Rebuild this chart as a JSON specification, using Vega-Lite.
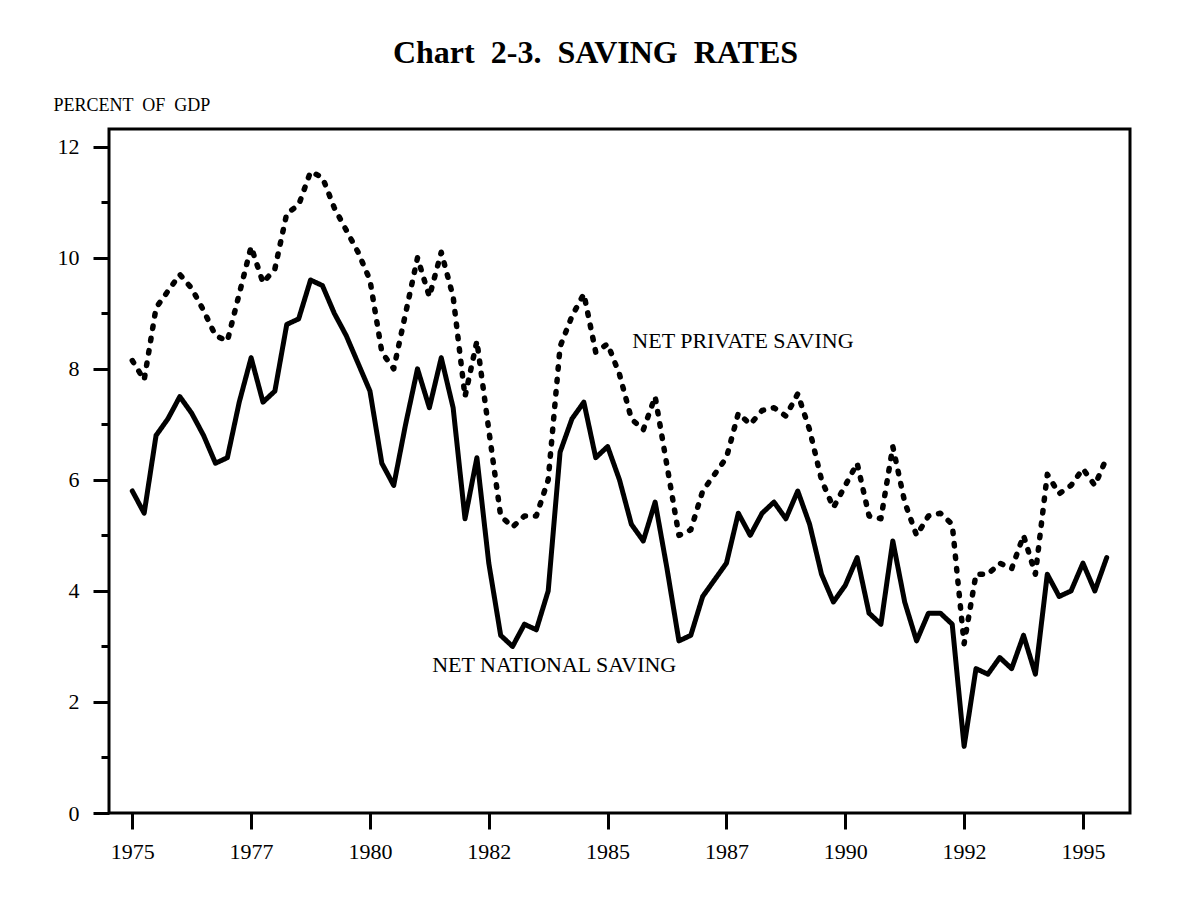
{
  "$schema": "https://vega.github.io/schema/vega-lite/v6.json",
  "autosize": "none",
  "width": 1021,
  "height": 684,
  "padding": {"left": 109, "top": 129, "right": 50, "bottom": 85},
  "background": "white",
  "config": {
    "view": {"stroke": "black", "strokeWidth": 3},
    "font": "Liberation Serif",
    "axis": {"labelColor": "black", "tickColor": "black", "titleColor": "black"}
  },
  "title": {
    "text": "Chart \u00a02-3. \u00a0SAVING \u00a0RATES",
    "font": "Liberation Serif",
    "fontSize": 32,
    "fontWeight": "bold",
    "color": "black",
    "anchor": "middle",
    "frame": "group",
    "dx": -24,
    "offset": 26
  },
  "datasets": {
    "saving": [
      {"year": 1975.00, "series": "NET NATIONAL SAVING", "value": 5.8},
      {"year": 1975.25, "series": "NET NATIONAL SAVING", "value": 5.4},
      {"year": 1975.50, "series": "NET NATIONAL SAVING", "value": 6.8},
      {"year": 1975.75, "series": "NET NATIONAL SAVING", "value": 7.1},
      {"year": 1976.00, "series": "NET NATIONAL SAVING", "value": 7.5},
      {"year": 1976.25, "series": "NET NATIONAL SAVING", "value": 7.2},
      {"year": 1976.50, "series": "NET NATIONAL SAVING", "value": 6.8},
      {"year": 1976.75, "series": "NET NATIONAL SAVING", "value": 6.3},
      {"year": 1977.00, "series": "NET NATIONAL SAVING", "value": 6.4},
      {"year": 1977.25, "series": "NET NATIONAL SAVING", "value": 7.4},
      {"year": 1977.50, "series": "NET NATIONAL SAVING", "value": 8.2},
      {"year": 1977.75, "series": "NET NATIONAL SAVING", "value": 7.4},
      {"year": 1978.00, "series": "NET NATIONAL SAVING", "value": 7.6},
      {"year": 1978.25, "series": "NET NATIONAL SAVING", "value": 8.8},
      {"year": 1978.50, "series": "NET NATIONAL SAVING", "value": 8.9},
      {"year": 1978.75, "series": "NET NATIONAL SAVING", "value": 9.6},
      {"year": 1979.00, "series": "NET NATIONAL SAVING", "value": 9.5},
      {"year": 1979.25, "series": "NET NATIONAL SAVING", "value": 9.0},
      {"year": 1979.50, "series": "NET NATIONAL SAVING", "value": 8.6},
      {"year": 1979.75, "series": "NET NATIONAL SAVING", "value": 8.1},
      {"year": 1980.00, "series": "NET NATIONAL SAVING", "value": 7.6},
      {"year": 1980.25, "series": "NET NATIONAL SAVING", "value": 6.3},
      {"year": 1980.50, "series": "NET NATIONAL SAVING", "value": 5.9},
      {"year": 1980.75, "series": "NET NATIONAL SAVING", "value": 7.0},
      {"year": 1981.00, "series": "NET NATIONAL SAVING", "value": 8.0},
      {"year": 1981.25, "series": "NET NATIONAL SAVING", "value": 7.3},
      {"year": 1981.50, "series": "NET NATIONAL SAVING", "value": 8.2},
      {"year": 1981.75, "series": "NET NATIONAL SAVING", "value": 7.3},
      {"year": 1982.00, "series": "NET NATIONAL SAVING", "value": 5.3},
      {"year": 1982.25, "series": "NET NATIONAL SAVING", "value": 6.4},
      {"year": 1982.50, "series": "NET NATIONAL SAVING", "value": 4.5},
      {"year": 1982.75, "series": "NET NATIONAL SAVING", "value": 3.2},
      {"year": 1983.00, "series": "NET NATIONAL SAVING", "value": 3.0},
      {"year": 1983.25, "series": "NET NATIONAL SAVING", "value": 3.4},
      {"year": 1983.50, "series": "NET NATIONAL SAVING", "value": 3.3},
      {"year": 1983.75, "series": "NET NATIONAL SAVING", "value": 4.0},
      {"year": 1984.00, "series": "NET NATIONAL SAVING", "value": 6.5},
      {"year": 1984.25, "series": "NET NATIONAL SAVING", "value": 7.1},
      {"year": 1984.50, "series": "NET NATIONAL SAVING", "value": 7.4},
      {"year": 1984.75, "series": "NET NATIONAL SAVING", "value": 6.4},
      {"year": 1985.00, "series": "NET NATIONAL SAVING", "value": 6.6},
      {"year": 1985.25, "series": "NET NATIONAL SAVING", "value": 6.0},
      {"year": 1985.50, "series": "NET NATIONAL SAVING", "value": 5.2},
      {"year": 1985.75, "series": "NET NATIONAL SAVING", "value": 4.9},
      {"year": 1986.00, "series": "NET NATIONAL SAVING", "value": 5.6},
      {"year": 1986.25, "series": "NET NATIONAL SAVING", "value": 4.4},
      {"year": 1986.50, "series": "NET NATIONAL SAVING", "value": 3.1},
      {"year": 1986.75, "series": "NET NATIONAL SAVING", "value": 3.2},
      {"year": 1987.00, "series": "NET NATIONAL SAVING", "value": 3.9},
      {"year": 1987.25, "series": "NET NATIONAL SAVING", "value": 4.2},
      {"year": 1987.50, "series": "NET NATIONAL SAVING", "value": 4.5},
      {"year": 1987.75, "series": "NET NATIONAL SAVING", "value": 5.4},
      {"year": 1988.00, "series": "NET NATIONAL SAVING", "value": 5.0},
      {"year": 1988.25, "series": "NET NATIONAL SAVING", "value": 5.4},
      {"year": 1988.50, "series": "NET NATIONAL SAVING", "value": 5.6},
      {"year": 1988.75, "series": "NET NATIONAL SAVING", "value": 5.3},
      {"year": 1989.00, "series": "NET NATIONAL SAVING", "value": 5.8},
      {"year": 1989.25, "series": "NET NATIONAL SAVING", "value": 5.2},
      {"year": 1989.50, "series": "NET NATIONAL SAVING", "value": 4.3},
      {"year": 1989.75, "series": "NET NATIONAL SAVING", "value": 3.8},
      {"year": 1990.00, "series": "NET NATIONAL SAVING", "value": 4.1},
      {"year": 1990.25, "series": "NET NATIONAL SAVING", "value": 4.6},
      {"year": 1990.50, "series": "NET NATIONAL SAVING", "value": 3.6},
      {"year": 1990.75, "series": "NET NATIONAL SAVING", "value": 3.4},
      {"year": 1991.00, "series": "NET NATIONAL SAVING", "value": 4.9},
      {"year": 1991.25, "series": "NET NATIONAL SAVING", "value": 3.8},
      {"year": 1991.50, "series": "NET NATIONAL SAVING", "value": 3.1},
      {"year": 1991.75, "series": "NET NATIONAL SAVING", "value": 3.6},
      {"year": 1992.00, "series": "NET NATIONAL SAVING", "value": 3.6},
      {"year": 1992.25, "series": "NET NATIONAL SAVING", "value": 3.4},
      {"year": 1992.50, "series": "NET NATIONAL SAVING", "value": 1.2},
      {"year": 1992.75, "series": "NET NATIONAL SAVING", "value": 2.6},
      {"year": 1993.00, "series": "NET NATIONAL SAVING", "value": 2.5},
      {"year": 1993.25, "series": "NET NATIONAL SAVING", "value": 2.8},
      {"year": 1993.50, "series": "NET NATIONAL SAVING", "value": 2.6},
      {"year": 1993.75, "series": "NET NATIONAL SAVING", "value": 3.2},
      {"year": 1994.00, "series": "NET NATIONAL SAVING", "value": 2.5},
      {"year": 1994.25, "series": "NET NATIONAL SAVING", "value": 4.3},
      {"year": 1994.50, "series": "NET NATIONAL SAVING", "value": 3.9},
      {"year": 1994.75, "series": "NET NATIONAL SAVING", "value": 4.0},
      {"year": 1995.00, "series": "NET NATIONAL SAVING", "value": 4.5},
      {"year": 1995.25, "series": "NET NATIONAL SAVING", "value": 4.0},
      {"year": 1995.50, "series": "NET NATIONAL SAVING", "value": 4.6},
      {"year": 1975.00, "series": "NET PRIVATE SAVING", "value": 8.15},
      {"year": 1975.25, "series": "NET PRIVATE SAVING", "value": 7.8},
      {"year": 1975.50, "series": "NET PRIVATE SAVING", "value": 9.1},
      {"year": 1975.75, "series": "NET PRIVATE SAVING", "value": 9.4},
      {"year": 1976.00, "series": "NET PRIVATE SAVING", "value": 9.7},
      {"year": 1976.25, "series": "NET PRIVATE SAVING", "value": 9.45},
      {"year": 1976.50, "series": "NET PRIVATE SAVING", "value": 9.05},
      {"year": 1976.75, "series": "NET PRIVATE SAVING", "value": 8.6},
      {"year": 1977.00, "series": "NET PRIVATE SAVING", "value": 8.5},
      {"year": 1977.25, "series": "NET PRIVATE SAVING", "value": 9.35},
      {"year": 1977.50, "series": "NET PRIVATE SAVING", "value": 10.2},
      {"year": 1977.75, "series": "NET PRIVATE SAVING", "value": 9.55},
      {"year": 1978.00, "series": "NET PRIVATE SAVING", "value": 9.8},
      {"year": 1978.25, "series": "NET PRIVATE SAVING", "value": 10.8},
      {"year": 1978.50, "series": "NET PRIVATE SAVING", "value": 10.95},
      {"year": 1978.75, "series": "NET PRIVATE SAVING", "value": 11.55},
      {"year": 1979.00, "series": "NET PRIVATE SAVING", "value": 11.45},
      {"year": 1979.25, "series": "NET PRIVATE SAVING", "value": 10.9},
      {"year": 1979.50, "series": "NET PRIVATE SAVING", "value": 10.5},
      {"year": 1979.75, "series": "NET PRIVATE SAVING", "value": 10.1},
      {"year": 1980.00, "series": "NET PRIVATE SAVING", "value": 9.6},
      {"year": 1980.25, "series": "NET PRIVATE SAVING", "value": 8.3},
      {"year": 1980.50, "series": "NET PRIVATE SAVING", "value": 8.0},
      {"year": 1980.75, "series": "NET PRIVATE SAVING", "value": 9.0},
      {"year": 1981.00, "series": "NET PRIVATE SAVING", "value": 10.0},
      {"year": 1981.25, "series": "NET PRIVATE SAVING", "value": 9.3},
      {"year": 1981.50, "series": "NET PRIVATE SAVING", "value": 10.1},
      {"year": 1981.75, "series": "NET PRIVATE SAVING", "value": 9.3},
      {"year": 1982.00, "series": "NET PRIVATE SAVING", "value": 7.5},
      {"year": 1982.25, "series": "NET PRIVATE SAVING", "value": 8.5},
      {"year": 1982.50, "series": "NET PRIVATE SAVING", "value": 6.9},
      {"year": 1982.75, "series": "NET PRIVATE SAVING", "value": 5.35},
      {"year": 1983.00, "series": "NET PRIVATE SAVING", "value": 5.15},
      {"year": 1983.25, "series": "NET PRIVATE SAVING", "value": 5.35},
      {"year": 1983.50, "series": "NET PRIVATE SAVING", "value": 5.35},
      {"year": 1983.75, "series": "NET PRIVATE SAVING", "value": 6.0},
      {"year": 1984.00, "series": "NET PRIVATE SAVING", "value": 8.4},
      {"year": 1984.25, "series": "NET PRIVATE SAVING", "value": 8.95},
      {"year": 1984.50, "series": "NET PRIVATE SAVING", "value": 9.35},
      {"year": 1984.75, "series": "NET PRIVATE SAVING", "value": 8.3},
      {"year": 1985.00, "series": "NET PRIVATE SAVING", "value": 8.45},
      {"year": 1985.25, "series": "NET PRIVATE SAVING", "value": 7.9},
      {"year": 1985.50, "series": "NET PRIVATE SAVING", "value": 7.1},
      {"year": 1985.75, "series": "NET PRIVATE SAVING", "value": 6.9},
      {"year": 1986.00, "series": "NET PRIVATE SAVING", "value": 7.5},
      {"year": 1986.25, "series": "NET PRIVATE SAVING", "value": 6.25},
      {"year": 1986.50, "series": "NET PRIVATE SAVING", "value": 5.0},
      {"year": 1986.75, "series": "NET PRIVATE SAVING", "value": 5.1},
      {"year": 1987.00, "series": "NET PRIVATE SAVING", "value": 5.8},
      {"year": 1987.25, "series": "NET PRIVATE SAVING", "value": 6.1},
      {"year": 1987.50, "series": "NET PRIVATE SAVING", "value": 6.4},
      {"year": 1987.75, "series": "NET PRIVATE SAVING", "value": 7.2},
      {"year": 1988.00, "series": "NET PRIVATE SAVING", "value": 7.0},
      {"year": 1988.25, "series": "NET PRIVATE SAVING", "value": 7.25},
      {"year": 1988.50, "series": "NET PRIVATE SAVING", "value": 7.3},
      {"year": 1988.75, "series": "NET PRIVATE SAVING", "value": 7.15},
      {"year": 1989.00, "series": "NET PRIVATE SAVING", "value": 7.55},
      {"year": 1989.25, "series": "NET PRIVATE SAVING", "value": 6.9},
      {"year": 1989.50, "series": "NET PRIVATE SAVING", "value": 6.0},
      {"year": 1989.75, "series": "NET PRIVATE SAVING", "value": 5.5},
      {"year": 1990.00, "series": "NET PRIVATE SAVING", "value": 5.9},
      {"year": 1990.25, "series": "NET PRIVATE SAVING", "value": 6.3},
      {"year": 1990.50, "series": "NET PRIVATE SAVING", "value": 5.35},
      {"year": 1990.75, "series": "NET PRIVATE SAVING", "value": 5.3},
      {"year": 1991.00, "series": "NET PRIVATE SAVING", "value": 6.6},
      {"year": 1991.25, "series": "NET PRIVATE SAVING", "value": 5.6},
      {"year": 1991.50, "series": "NET PRIVATE SAVING", "value": 5.0},
      {"year": 1991.75, "series": "NET PRIVATE SAVING", "value": 5.35},
      {"year": 1992.00, "series": "NET PRIVATE SAVING", "value": 5.4},
      {"year": 1992.25, "series": "NET PRIVATE SAVING", "value": 5.2},
      {"year": 1992.50, "series": "NET PRIVATE SAVING", "value": 3.05},
      {"year": 1992.75, "series": "NET PRIVATE SAVING", "value": 4.3},
      {"year": 1993.00, "series": "NET PRIVATE SAVING", "value": 4.3},
      {"year": 1993.25, "series": "NET PRIVATE SAVING", "value": 4.5},
      {"year": 1993.50, "series": "NET PRIVATE SAVING", "value": 4.4},
      {"year": 1993.75, "series": "NET PRIVATE SAVING", "value": 5.0},
      {"year": 1994.00, "series": "NET PRIVATE SAVING", "value": 4.3},
      {"year": 1994.25, "series": "NET PRIVATE SAVING", "value": 6.1},
      {"year": 1994.50, "series": "NET PRIVATE SAVING", "value": 5.75},
      {"year": 1994.75, "series": "NET PRIVATE SAVING", "value": 5.9},
      {"year": 1995.00, "series": "NET PRIVATE SAVING", "value": 6.2},
      {"year": 1995.25, "series": "NET PRIVATE SAVING", "value": 5.9},
      {"year": 1995.50, "series": "NET PRIVATE SAVING", "value": 6.4}
    ],
    "labels": [
      {"year": 1985.52, "value": 8.5, "label": "NET PRIVATE SAVING"},
      {"year": 1981.31, "value": 2.67, "label": "NET NATIONAL SAVING"}
    ]
  },
  "layer": [
    {
      "data": {"name": "saving"},
      "mark": {"type": "line", "color": "black", "strokeCap": "round", "strokeJoin": "round"},
      "encoding": {
        "x": {
          "field": "year",
          "type": "quantitative",
          "scale": {"domain": [1974.51, 1995.99], "nice": false, "zero": false},
          "axis": {
            "values": [1975, 1977.5, 1980, 1982.5, 1985, 1987.5, 1990, 1992.5, 1995],
            "labelExpr": "'' + floor(datum.value)",
            "tickSize": 16,
            "tickWidth": 3,
            "domain": false,
            "grid": false,
            "labelFont": "Liberation Serif",
            "labelFontSize": 22,
            "labelPadding": 12,
            "title": null
          }
        },
        "y": {
          "field": "value",
          "type": "quantitative",
          "scale": {"domain": [0, 12.32], "nice": false, "zero": false},
          "axis": {
            "values": [0, 1, 2, 3, 4, 5, 6, 7, 8, 9, 10, 11, 12],
            "labelExpr": "datum.value % 2 ? '' : '' + datum.value",
            "tickSize": {"condition": {"test": "datum.value % 2 === 1", "value": 8}, "value": 16},
            "tickWidth": 3,
            "domain": false,
            "grid": false,
            "labelFont": "Liberation Serif",
            "labelFontSize": 22,
            "labelPadding": 14,
            "title": "PERCENT \u00a0OF \u00a0GDP",
            "titleAngle": 0,
            "titleAlign": "left",
            "titleBaseline": "alphabetic",
            "titleX": -56,
            "titleY": -19,
            "titleFont": "Liberation Serif",
            "titleFontSize": 18,
            "titleFontWeight": "normal"
          }
        },
        "strokeDash": {
          "field": "series",
          "type": "nominal",
          "scale": {"domain": ["NET NATIONAL SAVING", "NET PRIVATE SAVING"], "range": [[1, 0], [2.5, 10]]},
          "legend": null
        },
        "strokeWidth": {
          "field": "series",
          "type": "nominal",
          "scale": {"domain": ["NET NATIONAL SAVING", "NET PRIVATE SAVING"], "range": [5, 5.5]},
          "legend": null
        }
      }
    },
    {
      "data": {"name": "labels"},
      "mark": {"type": "text", "align": "left", "baseline": "middle", "font": "Liberation Serif", "fontSize": 22, "color": "black"},
      "encoding": {
        "x": {"field": "year", "type": "quantitative"},
        "y": {"field": "value", "type": "quantitative"},
        "text": {"field": "label", "type": "nominal"}
      }
    }
  ]
}
